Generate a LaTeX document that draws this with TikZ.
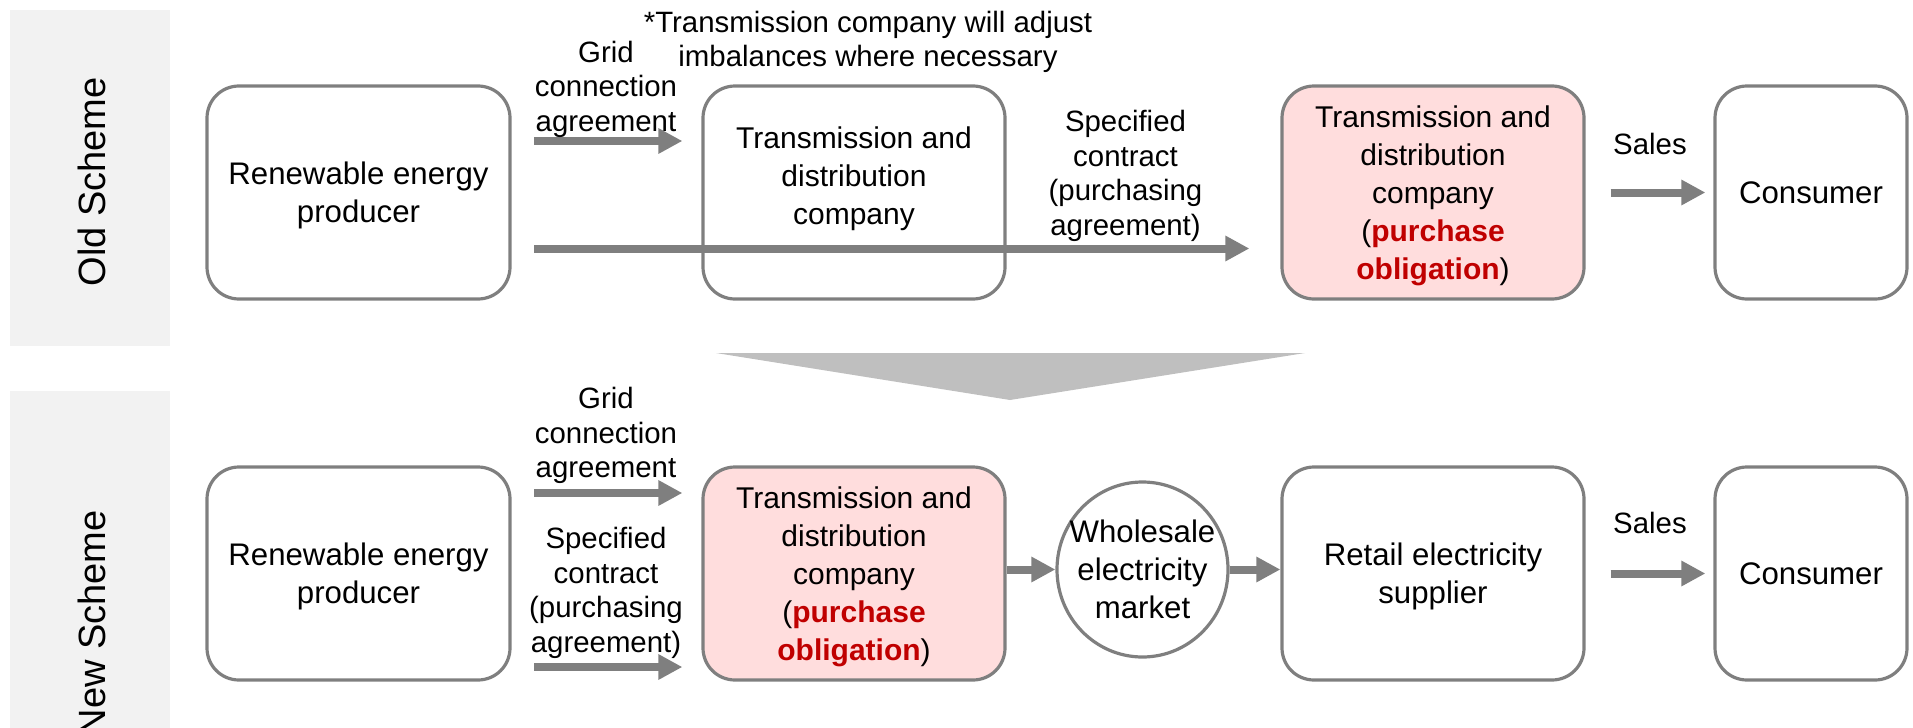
\documentclass[tikz,border=0pt]{standalone}
\usepackage{fontspec}
\setmainfont{Liberation Sans}
\usetikzlibrary{
	arrows.meta,
	shapes.geometric,
	% positioning,
	% calc,
}
\definecolor{bandgray}{HTML}{F2F2F2}
\definecolor{linegray}{HTML}{7F7F7F}
\definecolor{chevgray}{HTML}{BFBFBF}
\definecolor{oblpink}{HTML}{FFDDDD}
\definecolor{oblred}{HTML}{C00000}
\tikzstyle{party} = [draw=linegray, line width=1.6pt, rounded corners=16pt, align=center, text depth=0pt, minimum height=106.5pt, font=\fontsize{15.6}{19}\selectfont]
\tikzstyle{oblig} = [party, fill=oblpink, font=\fontsize{15}{19}\selectfont]
\tikzstyle{boxtext} = [align=center, text depth=0pt, font=\fontsize{15}{19}\selectfont]
\tikzstyle{flowtext} = [align=center, inner sep=0pt, font=\fontsize{14.7}{17.25}\selectfont]
\tikzstyle{scheme} = [rotate=90, anchor=east, inner sep=0pt, font=\fontsize{19}{19}\selectfont]
\tikzstyle{arrow} = [line width=4pt, linegray, -{Triangle[length=12pt,width=12pt]}]

\begin{document}
\begin{tikzpicture}[x=0.5pt, y=-0.5pt]
	\useasboundingbox (0,0) rectangle (1913,728);
	\clip (0,0) rectangle (1913,728);

	% scheme bands
	\fill[bandgray] (10,10) rectangle (170,346);
	\fill[bandgray] (10,391) rectangle (170,728);
	\node[scheme] (oldscheme) at (91.5,77) {Old Scheme};
	\node[scheme] (newscheme) at (91.5,510) {New Scheme};

	% old scheme
	\node[party, minimum width=151.5pt] (prod1) at (358.5,192.5) {Renewable energy\\producer};
	\node[party, minimum width=151pt] (td1) at (854,192.5) {};
	\node[boxtext] (td1txt) at (854,175.5) {Transmission and\\distribution\\company};
	\node[oblig, minimum width=151pt] (obl1) at (1433,192.5) {Transmission and\\distribution\\company\\(\textcolor{oblred}{\textbf{purchase}}\\\textcolor{oblred}{\textbf{obligation}})};
	\node[party, minimum width=96pt] (cons1) at (1811,192.5) {Consumer};

	\coordinate (grid1) at (534,141);
	\coordinate (spec1) at (534,248.5);
	\draw[arrow, shorten >=9.5pt] (grid1) -- (grid1 -| td1.west);
	\draw[arrow, shorten >=15.5pt] (spec1) -- (spec1 -| obl1.west);
	\draw[arrow, shorten <=12.5pt, shorten >=4pt] (obl1) -- (cons1);

	% new scheme
	\node[party, minimum width=151.5pt] (prod2) at (358.5,573.5) {Renewable energy\\producer};
	\node[oblig, minimum width=151pt] (td2) at (854,573.5) {Transmission and\\distribution\\company\\(\textcolor{oblred}{\textbf{purchase}}\\\textcolor{oblred}{\textbf{obligation}})};
	\node[ellipse, draw=linegray, line width=1.6pt, minimum width=85.5pt, minimum height=87.5pt] (market) at (1142.5,569.5) {};
	\node[boxtext, font=\fontsize{15.6}{19}\selectfont] (markettxt) at (1142.5,569.5) {Wholesale\\electricity\\market};
	\node[party, minimum width=151pt] (retail) at (1433,573.5) {Retail electricity\\supplier};
	\node[party, minimum width=96pt] (cons2) at (1811,573.5) {Consumer};

	\coordinate (grid2) at (534,493);
	\coordinate (spec2) at (534,667);
	\draw[arrow, shorten >=9.5pt] (grid2) -- (grid2 -| td2.west);
	\draw[arrow, shorten >=9.5pt] (spec2) -- (spec2 -| td2.west);
	\draw[arrow] (td2.east |- market.west) -- (market.west);
	\draw[arrow] (market.east) -- (market.east -| retail.west);
	\draw[arrow, shorten <=12.5pt, shorten >=4pt] (retail) -- (cons2);

	% change from old to new
	\fill[chevgray] (716,353) -- (1305,353) -- (1010,400) -- cycle;

	% labels
	\node[flowtext] (note) at (868,42) {*Transmission company will adjust\\imbalances where necessary};
	\node[flowtext] (gridlab1) at (606,89) {Grid\\connection\\agreement};
	\node[flowtext] (speclab1) at (1125.5,176) {Specified\\contract\\(purchasing\\agreement)};
	\node[flowtext] (sales1) at (1650,143.5) {Sales};
	\node[flowtext] (gridlab2) at (606,435.5) {Grid\\connection\\agreement};
	\node[flowtext] (speclab2) at (606,593) {Specified\\contract\\(purchasing\\agreement)};
	\node[flowtext] (sales2) at (1650,522.5) {Sales};

\end{tikzpicture}
\end{document}
